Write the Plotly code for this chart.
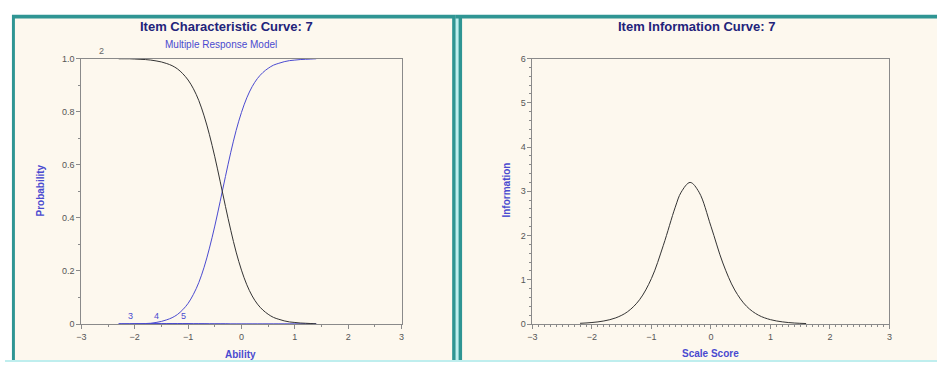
import plotly.graph_objects as go

W, H = 940, 367

# ---- data ----
icc_x = [-2.3, -2.2, -2.1, -2.0, -1.9, -1.8, -1.7, -1.6, -1.5, -1.4, -1.3, -1.2, -1.1, -1.0,
         -0.9, -0.8, -0.7, -0.6, -0.5, -0.4, -0.3, -0.2, -0.1, 0.0, 0.1, 0.2, 0.3, 0.4, 0.5,
         0.6, 0.7, 0.8, 0.9, 1.0, 1.1, 1.2, 1.3, 1.4]
cat2_p = [0.999, 0.999, 0.999, 0.998, 0.997, 0.996, 0.994, 0.991, 0.987, 0.981, 0.973, 0.961,
          0.943, 0.919, 0.886, 0.842, 0.784, 0.713, 0.630, 0.538, 0.443, 0.353, 0.271, 0.203,
          0.148, 0.106, 0.075, 0.053, 0.037, 0.025, 0.018, 0.012, 0.008, 0.006, 0.004, 0.003,
          0.002, 0.001]
cat5_p = [0.000, 0.000, 0.000, 0.001, 0.001, 0.002, 0.003, 0.006, 0.010, 0.016, 0.024, 0.036,
          0.054, 0.078, 0.112, 0.156, 0.214, 0.286, 0.369, 0.461, 0.556, 0.647, 0.729, 0.797,
          0.852, 0.894, 0.925, 0.947, 0.963, 0.975, 0.982, 0.988, 0.992, 0.994, 0.996, 0.997,
          0.998, 0.999]
cat3_p = [0.001, 0.001, 0.001, 0.001, 0.001, 0.001, 0.001, 0.001, 0.001, 0.001, 0.001, 0.001,
          0.001, 0.001, 0.001, 0.001, 0.001, 0.0, 0.0, 0.0, 0.0, 0.0, 0.0, 0.0,
          0.0, 0.0, 0.0, 0.0, 0.0, 0.0, 0.0, 0.0, 0.0, 0.0, 0.0, 0.0, 0.0, 0.0]
cat4_p = [0.0, 0.0, 0.0, 0.001, 0.001, 0.001, 0.002, 0.002, 0.002, 0.002, 0.002, 0.002,
          0.002, 0.002, 0.001, 0.001, 0.001, 0.001, 0.001, 0.001, 0.001, 0.0, 0.0, 0.0,
          0.0, 0.0, 0.0, 0.0, 0.0, 0.0, 0.0, 0.0, 0.0, 0.0, 0.0, 0.0, 0.0, 0.0]
curve_labels = ["2", "3", "4", "5"]
label_x = [-2.63, -2.07, -1.59, -1.09]
label_y = [1.0, 0.0, 0.0, 0.0]

info_x = [-2.2, -2.0, -1.8, -1.6, -1.4, -1.2, -1.0, -0.8, -0.6, -0.5, -0.35, -0.2, 0.0,
          0.2, 0.4, 0.6, 0.8, 1.0, 1.2, 1.4, 1.6]
info_y = [0.017, 0.035, 0.07, 0.14, 0.28, 0.55, 1.03, 1.78, 2.64, 2.98, 3.2, 2.98, 2.21,
          1.38, 0.77, 0.40, 0.20, 0.10, 0.05, 0.024, 0.012]

x_ticks = [-3, -2, -1, 0, 1, 2, 3]
p_ticks = [0, 0.2, 0.4, 0.6, 0.8, 1.0]
p_ticktext = ["0", "0.2", "0.4", "0.6", "0.8", "1.0"]
i_ticks = [0, 1, 2, 3, 4, 5, 6]

# ---- helpers ----
def px(x):
    return x / W

def py(y):
    return 1 - y / H

TEAL = "#2f9593"
LIGHT = "#bfeeee"
CREAM = "#fdf8ee"
GRAY = "#8a8a8a"
TICKC = "#555555"
NAVY = "#22237a"
BLUE = "#4a4ad0"
FONT = "Liberation Sans, Arial, sans-serif"

fig = go.Figure()

for ys in (cat3_p, cat4_p):
    fig.add_trace(go.Scatter(x=icc_x, y=ys, mode="lines", line=dict(color=BLUE, width=1, shape="spline"),
                             xaxis="x", yaxis="y", showlegend=False, hoverinfo="skip"))
fig.add_trace(go.Scatter(x=icc_x, y=cat5_p, mode="lines", line=dict(color=BLUE, width=1, shape="spline"),
                         xaxis="x", yaxis="y", showlegend=False))
fig.add_trace(go.Scatter(x=icc_x, y=cat2_p, mode="lines", line=dict(color="#333333", width=1, shape="spline"),
                         xaxis="x", yaxis="y", showlegend=False))
fig.add_trace(go.Scatter(x=info_x, y=info_y, mode="lines", line=dict(color="#333333", width=1, shape="spline"),
                         xaxis="x2", yaxis="y2", showlegend=False))

shapes = []
shapes.append(dict(type="rect", xref="paper", yref="paper", x0=px(7), x1=px(454), y0=py(367), y1=py(10),
                   fillcolor=TEAL, line=dict(width=0), layer="below"))
shapes.append(dict(type="rect", xref="paper", yref="paper", x0=px(10), x1=px(451), y0=py(365), y1=py(14),
                   fillcolor=CREAM, line=dict(width=0), layer="below"))
shapes.append(dict(type="rect", xref="paper", yref="paper", x0=px(454), x1=px(940), y0=py(367), y1=py(10),
                   fillcolor=TEAL, line=dict(width=0), layer="below"))
shapes.append(dict(type="rect", xref="paper", yref="paper", x0=px(454.5), x1=px(457.5), y0=py(367), y1=py(14),
                   fillcolor=LIGHT, line=dict(width=0), layer="below"))
shapes.append(dict(type="rect", xref="paper", yref="paper", x0=px(461), x1=px(940), y0=py(365), y1=py(14),
                   fillcolor=CREAM, line=dict(width=0), layer="below"))
shapes.append(dict(type="rect", xref="paper", yref="paper", x0=px(0), x1=px(940), y0=py(367), y1=py(365),
                   fillcolor=LIGHT, line=dict(width=0), layer="below"))

tickfont = dict(family=FONT, size=9, color=TICKC)
common = dict(ticks="outside", ticklen=4, tickcolor=GRAY, showline=True, linecolor=GRAY, linewidth=1,
              mirror=True, showgrid=False, zeroline=False, tickfont=tickfont)

fig.update_layout(
    width=W, height=H,
    margin=dict(l=0, r=0, t=0, b=0),
    paper_bgcolor="white",
    plot_bgcolor="white",
    shapes=shapes,
    font=dict(family=FONT, size=9, color=TICKC),
    xaxis=dict(domain=[px(77), px(400)], range=[-3, 3], tickvals=x_ticks, anchor="y",
               minor=dict(dtick=0.5, tick0=0, ticks="outside", ticklen=2, tickcolor=GRAY), **common),
    yaxis=dict(domain=[py(328), py(55)], range=[0, 1], tickvals=p_ticks, ticktext=p_ticktext, anchor="x",
               minor=dict(dtick=0.1, tick0=0, ticks="outside", ticklen=2, tickcolor=GRAY), **common),
    xaxis2=dict(domain=[px(532), px(892)], range=[-3, 3], tickvals=x_ticks, anchor="y2",
                minor=dict(dtick=0.1, tick0=0, ticks="outside", ticklen=2, tickcolor=GRAY), **common),
    yaxis2=dict(domain=[py(328), py(55)], range=[0, 6], tickvals=i_ticks, anchor="x2",
                minor=dict(dtick=0.2, tick0=0, ticks="outside", ticklen=2, tickcolor=GRAY), **common),
)

def note(text, x, y, size, color, angle=0):
    return dict(text=text, x=px(x), y=py(y), xref="paper", yref="paper", showarrow=False,
                xanchor="center", yanchor="middle", textangle=angle,
                font=dict(family=FONT, size=size, color=color))

ann = [
    note("<b>Item Characteristic Curve: 7</b>", 223, 22, 13, NAVY),
    note("Multiple Response Model", 218, 41, 10, BLUE),
    note("<b>Item Information Curve: 7</b>", 697, 22, 13, NAVY),
    note("<b>Ability</b>", 238, 359, 10, BLUE),
    note("<b>Scale Score</b>", 712, 358, 10, BLUE),
    note("<b>Probability</b>", 36, 191, 10, BLUE, -90),
    note("<b>Information</b>", 506, 190, 10, BLUE, -90),
]
label_colors = ["#666666", BLUE, BLUE, BLUE]
for t, lx, ly, c in zip(curve_labels, label_x, label_y, label_colors):
    ann.append(dict(text=t, x=lx, y=ly, xref="x", yref="y", showarrow=False, yanchor="bottom",
                    xanchor="center", yshift=1, font=dict(family=FONT, size=9, color=c)))
fig.update_layout(annotations=ann)

fig.write_html("out.html", config={"displayModeBar": False},
               post_script="document.body.style.margin='0';document.body.style.overflow='hidden';")
